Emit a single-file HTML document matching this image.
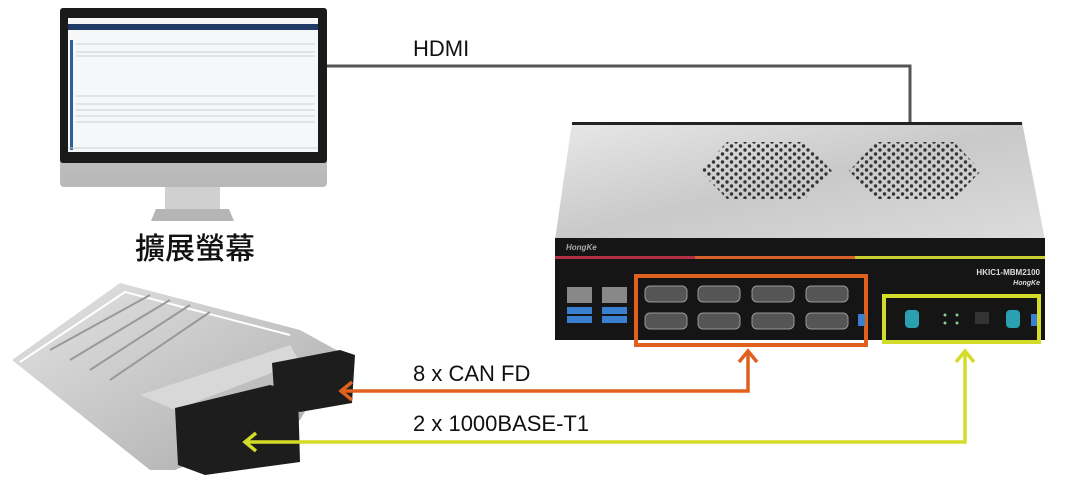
<!DOCTYPE html>
<html><head><meta charset="utf-8"><style>
html,body{margin:0;padding:0;background:#fff;width:1077px;height:485px;overflow:hidden}
svg{display:block}
</style></head><body>
<svg width="1077" height="485" viewBox="0 0 1077 485" xmlns="http://www.w3.org/2000/svg">
<defs>
<linearGradient id="lid" x1="0" y1="0" x2="1" y2="1">
<stop offset="0" stop-color="#e8e8e8"/><stop offset="0.5" stop-color="#c9c9c9"/><stop offset="1" stop-color="#dcdcdc"/></linearGradient>
<linearGradient id="bez" x1="0" y1="0" x2="0" y2="1">
<stop offset="0" stop-color="#dedede"/><stop offset="1" stop-color="#b8b8b8"/></linearGradient>
<pattern id="holes" width="9" height="8" patternUnits="userSpaceOnUse">
<circle cx="2.5" cy="2" r="1.7" fill="#333"/><circle cx="7" cy="6" r="1.7" fill="#333"/></pattern>
<linearGradient id="ecu" x1="0" y1="0" x2="1" y2="1">
<stop offset="0" stop-color="#e4e4e4"/><stop offset="1" stop-color="#a9a9a9"/></linearGradient>
</defs>

<!-- HDMI line -->
<polyline points="327,66 910,66 910,122" fill="none" stroke="#555" stroke-width="3"/>
<text x="413" y="56" font-family="Liberation Sans, sans-serif" font-size="22" fill="#111">HDMI</text>

<!-- Monitor -->
<rect x="60" y="8" width="267" height="179" rx="4" fill="url(#bez)"/>
<rect x="60" y="8" width="267" height="155" rx="3" fill="#1a1a1a"/>
<rect x="68" y="18" width="250" height="134" fill="#f6f7f9"/>
<rect x="68" y="24" width="250" height="6" fill="#1f3b66"/>
<rect x="70" y="40" width="3" height="110" fill="#2f5f9a"/>
<g stroke="#c8ccd2" stroke-width="1">
<line x1="76" y1="44" x2="315" y2="44"/><line x1="76" y1="52" x2="315" y2="52"/><line x1="76" y1="56" x2="315" y2="56"/>
<line x1="76" y1="96" x2="315" y2="96"/><line x1="76" y1="104" x2="315" y2="104"/><line x1="76" y1="110" x2="315" y2="110"/><line x1="76" y1="116" x2="315" y2="116"/><line x1="76" y1="122" x2="315" y2="122"/><line x1="68" y1="148" x2="318" y2="148"/>
</g>
<rect x="165" y="187" width="55" height="22" fill="#d0d0d0"/>
<path d="M156 209 L229 209 L234 221 L151 221 Z" fill="#b5b5b5"/>
<text x="195" y="259" text-anchor="middle" font-family="Liberation Sans, 'Noto Sans CJK TC', sans-serif" font-size="30" font-weight="500" fill="#111">擴展螢幕</text>

<!-- Device lid -->
<path d="M572 122 L1022 122 L1045 240 L555 240 Z" fill="url(#lid)"/>
<rect x="572" y="122" width="450" height="3" fill="#222"/>
<polygon points="700,171 727,142 805,142 832,171 805,199 727,199" fill="url(#holes)"/>
<polygon points="849,171 876,142 954,142 981,171 954,199 876,199" fill="url(#holes)"/>
<!-- front panel -->
<rect x="555" y="238" width="490" height="102" fill="#151515"/>
<rect x="555" y="256" width="140" height="3" fill="#b32f45"/>
<rect x="695" y="256" width="160" height="3" fill="#d8632a"/>
<rect x="855" y="256" width="190" height="3" fill="#c9cf33"/>
<text x="566" y="250" font-family="Liberation Sans, sans-serif" font-size="8" font-style="italic" font-weight="bold" fill="#aaa">HongKe</text>
<text x="1040" y="275" text-anchor="end" font-family="Liberation Sans, sans-serif" font-size="8" font-weight="bold" fill="#ddd">HKIC1-MBM2100</text>
<text x="1040" y="285" text-anchor="end" font-family="Liberation Sans, sans-serif" font-size="7" font-style="italic" font-weight="bold" fill="#ddd">HongKe</text>
<!-- LAN/USB -->
<rect x="567" y="287" width="25" height="16" fill="#888"/><rect x="602" y="287" width="25" height="16" fill="#888"/>
<rect x="567" y="307" width="25" height="7" fill="#3a7fd0"/><rect x="567" y="316" width="25" height="7" fill="#3a7fd0"/>
<rect x="602" y="307" width="25" height="7" fill="#3a7fd0"/><rect x="602" y="316" width="25" height="7" fill="#3a7fd0"/>
<!-- DB9 -->
<g fill="#555" stroke="#999" stroke-width="1">
<rect x="645" y="286" width="42" height="16" rx="5"/><rect x="698" y="286" width="42" height="16" rx="5"/><rect x="752" y="286" width="42" height="16" rx="5"/><rect x="806" y="286" width="42" height="16" rx="5"/>
<rect x="645" y="313" width="42" height="16" rx="5"/><rect x="698" y="313" width="42" height="16" rx="5"/><rect x="752" y="313" width="42" height="16" rx="5"/><rect x="806" y="313" width="42" height="16" rx="5"/>
</g>
<rect x="636" y="276" width="230" height="69" fill="none" stroke="#e0601e" stroke-width="4"/>
<!-- T1 ports -->
<rect x="858" y="314" width="7" height="12" fill="#3a7fd0"/>
<rect x="905" y="310" width="14" height="18" rx="4" fill="#2aa0b0"/>
<rect x="975" y="312" width="14" height="12" fill="#333"/>
<rect x="1006" y="310" width="14" height="18" rx="4" fill="#2aa0b0"/>
<rect x="1031" y="314" width="7" height="12" fill="#3a7fd0"/>
<circle cx="945" cy="315" r="1.5" fill="#8c8"/><circle cx="945" cy="323" r="1.5" fill="#8c8"/><circle cx="957" cy="315" r="1.5" fill="#8c8"/><circle cx="957" cy="323" r="1.5" fill="#8c8"/>
<rect x="884" y="296" width="155" height="46" fill="none" stroke="#d4dc2a" stroke-width="4"/>

<!-- ECU -->
<path d="M12 360 L120 283 L300 330 L340 352 L300 420 L175 470 L150 470 Z" fill="url(#ecu)"/>
<path d="M20 362 L125 292 L290 335" fill="none" stroke="#fff" stroke-width="2"/>
<path d="M50 350 L150 295 M70 360 L170 300 M90 370 L190 305 M110 380 L210 312" stroke="#999" stroke-width="2"/>
<path d="M140 395 L290 345 L300 362 L175 410 Z" fill="#d8d8d8"/>
<path d="M175 408 L270 385 L298 392 L300 462 L205 475 L178 465 Z" fill="#1d1d1d"/>
<path d="M272 363 L340 350 L355 355 L352 403 L300 412 L275 405 Z" fill="#1d1d1d"/>

<!-- CAN FD arrow -->
<polyline points="748,352 748,391 342,391" fill="none" stroke="#e0601e" stroke-width="3.5"/>
<polyline points="739,362 748,351 757,362" fill="none" stroke="#e0601e" stroke-width="3.5"/>
<polyline points="352,382 341,391 352,400" fill="none" stroke="#e0601e" stroke-width="3.5"/>
<text x="413" y="381" font-family="Liberation Sans, sans-serif" font-size="22" fill="#111">8 x CAN FD</text>

<!-- T1 arrow -->
<polyline points="965,352 965,442 246,442" fill="none" stroke="#d4dc2a" stroke-width="3.5"/>
<polyline points="956,362 965,351 974,362" fill="none" stroke="#d4dc2a" stroke-width="3.5"/>
<polyline points="256,433 245,442 256,451" fill="none" stroke="#d4dc2a" stroke-width="3.5"/>
<text x="413" y="431" font-family="Liberation Sans, sans-serif" font-size="22" fill="#111">2 x 1000BASE-T1</text>
</svg>
</body></html>
